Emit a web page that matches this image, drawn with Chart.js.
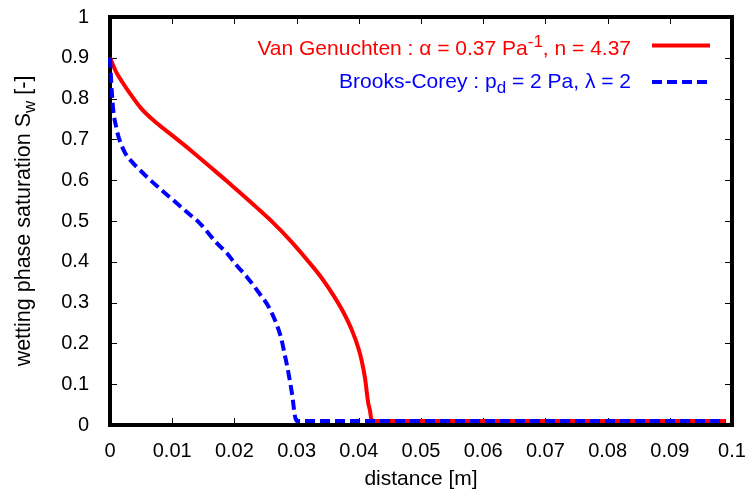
<!DOCTYPE html>
<html>
<head>
<meta charset="utf-8">
<title>Wetting phase saturation</title>
<script src="https://cdn.jsdelivr.net/npm/chart.js@4/dist/chart.umd.min.js"></script>
<style>
  html, body { margin: 0; padding: 0; background: #fff; }
  canvas { display: block; }
</style>
</head>
<body>
<canvas id="satChart" width="752" height="495"></canvas>
<script>
// values: distance [m] -> saturation [-]
const vgDistance = [0, 0.001, 0.002, 0.003, 0.005, 0.0075, 0.01, 0.013, 0.016, 0.019, 0.021, 0.0235, 0.026, 0.029, 0.032, 0.034, 0.036, 0.0375, 0.0389, 0.04, 0.0405, 0.041, 0.0415, 0.0418, 0.042, 0.0425, 0.099]
const vgSaturation = [0.9, 0.865, 0.84, 0.817, 0.776, 0.74, 0.71, 0.673, 0.634, 0.595, 0.568, 0.534, 0.499, 0.452, 0.399, 0.361, 0.316, 0.277, 0.232, 0.185, 0.155, 0.115, 0.055, 0.035, 0.015, 0.01, 0.01]

const bcDistance = [0, 0.0002, 0.0005, 0.001, 0.0015, 0.0025, 0.0037, 0.005, 0.0065, 0.0085, 0.0101, 0.0125, 0.0144, 0.0171, 0.0188, 0.0203, 0.022, 0.024, 0.0255, 0.0267, 0.0275, 0.0281, 0.0285, 0.0289, 0.0293, 0.0297, 0.03, 0.099]
const bcSaturation = [0.9, 0.84, 0.775, 0.73, 0.7, 0.665, 0.642, 0.622, 0.6, 0.573, 0.552, 0.52, 0.495, 0.447, 0.421, 0.392, 0.363, 0.323, 0.29, 0.25, 0.214, 0.172, 0.143, 0.11, 0.073, 0.025, 0.01, 0.01]

const xTicks = [0, 0.01, 0.02, 0.03, 0.04, 0.05, 0.06, 0.07, 0.08, 0.09, 0.1]
const xTickLabels = ["0", "0.01", "0.02", "0.03", "0.04", "0.05", "0.06", "0.07", "0.08", "0.09", "0.1"]
const yTicks = [0, 0.1, 0.2, 0.3, 0.4, 0.5, 0.6, 0.7, 0.8, 0.9, 1]
const yTickLabels = ["0", "0.1", "0.2", "0.3", "0.4", "0.5", "0.6", "0.7", "0.8", "0.9", "1"]

const FONT = "'Liberation Sans', Arial, sans-serif"
const RED = "#ff0000"
const BLUE = "#0000ff"

const toPoints = (xs, ys) => xs.map((x, i) => ({ x: x, y: ys[i] }))

// draw text made of parts, some raised (sup) or lowered (sub)
function drawRich(ctx, parts, x, y, align, color, size) {
  const big = size + "px " + FONT
  const small = Math.round(size * 0.8) + "px " + FONT
  let width = 0
  parts.forEach((p) => {
    ctx.font = p.sup || p.sub ? small : big
    p.w = ctx.measureText(p.t).width
    width += p.w
  })
  let cx = align === "right" ? x - width : align === "center" ? x - width / 2 : x
  ctx.fillStyle = color
  ctx.textAlign = "left"
  ctx.textBaseline = "alphabetic"
  parts.forEach((p) => {
    ctx.font = p.sup || p.sub ? small : big
    const dy = p.sup ? -8 : p.sub ? 5 : 0
    ctx.fillText(p.t, cx, y + dy)
    cx += p.w
  })
}

const framePlugin = {
  id: "gnuplotFrame",
  beforeDatasetsDraw(chart) {
    const ctx = chart.ctx
    const a = chart.chartArea
    const xs = chart.scales.x
    const ys = chart.scales.y
    ctx.save()
    // inward ticks on all four sides
    ctx.strokeStyle = "#000"
    ctx.lineWidth = 1
    ctx.beginPath()
    xTicks.forEach((v) => {
      const px = Math.round(xs.getPixelForValue(v)) + 0.5
      ctx.moveTo(px, a.bottom)
      ctx.lineTo(px, a.bottom - 7)
      ctx.moveTo(px, a.top)
      ctx.lineTo(px, a.top + 7)
    })
    yTicks.forEach((v) => {
      const py = Math.round(ys.getPixelForValue(v)) + 0.5
      ctx.moveTo(a.left, py)
      ctx.lineTo(a.left + 7, py)
      ctx.moveTo(a.right, py)
      ctx.lineTo(a.right - 7, py)
    })
    ctx.stroke()
    // border
    ctx.lineWidth = 4
    ctx.strokeRect(a.left, a.top, a.right - a.left, a.bottom - a.top)
    ctx.restore()
  },
  afterDatasetsDraw(chart) {
    const ctx = chart.ctx
    const a = chart.chartArea
    ctx.save()

    // legend, text right aligned, sample line to the right
    drawRich(ctx, [{ t: "Van Genuchten : \u03b1 = 0.37 Pa" }, { t: "-1", sup: true }, { t: ", n = 4.37" }], 631, 55, "right", RED, 21)
    drawRich(ctx, [{ t: "Brooks-Corey : p" }, { t: "d", sub: true }, { t: " = 2 Pa, \u03bb = 2" }], 631, 88, "right", BLUE, 21)

    ctx.lineWidth = 4
    ctx.strokeStyle = RED
    ctx.beginPath()
    ctx.moveTo(652, 45.5)
    ctx.lineTo(710, 45.5)
    ctx.stroke()
    ctx.strokeStyle = BLUE
    ctx.setLineDash([10, 5])
    ctx.beginPath()
    ctx.moveTo(652, 82)
    ctx.lineTo(710, 82)
    ctx.stroke()
    ctx.setLineDash([])

    // axis titles
    drawRich(ctx, [{ t: "distance [m]" }], (a.left + a.right) / 2, 485, "center", "#000", 21)
    ctx.translate(30, (a.top + a.bottom) / 2)
    ctx.rotate(-Math.PI / 2)
    drawRich(ctx, [{ t: "wetting phase saturation S" }, { t: "w", sub: true }, { t: " [-]" }], 0, 0, "center", "#000", 21.5)
    ctx.restore()
  },
}

document.addEventListener("DOMContentLoaded", () => {
  const canvas = document.getElementById("satChart")

  new Chart(canvas, {
    type: "line",
    data: {
      datasets: [
        {
          label: "Brooks-Corey",
          data: toPoints(bcDistance, bcSaturation),
          borderColor: BLUE,
          borderWidth: 4,
          borderDash: [10, 5],
          pointRadius: 0,
          cubicInterpolationMode: "monotone",
          clip: 6,
        },
        {
          label: "Van Genuchten",
          data: toPoints(vgDistance, vgSaturation),
          borderColor: RED,
          borderWidth: 4,
          pointRadius: 0,
          cubicInterpolationMode: "monotone",
          clip: 6,
        },
      ],
    },
    options: {
      responsive: false,
      animation: false,
      devicePixelRatio: 1,
      layout: { padding: { top: 17, right: 20, left: 0, bottom: 0 } },
      plugins: {
        legend: { display: false },
        tooltip: { enabled: false },
      },
      scales: {
        x: {
          type: "linear",
          min: 0,
          max: 0.1,
          grid: { display: false },
          border: { display: false },
          afterBuildTicks: (s) => {
            s.ticks = xTicks.map((v) => ({ value: v }))
          },
          afterFit: (s) => {
            s.height = 70
            s.paddingLeft = 0
            s.paddingRight = 0
          },
          ticks: {
            autoSkip: false,
            maxRotation: 0,
            padding: 6,
            color: "#000",
            font: { family: FONT, size: 20 },
            callback: (v, i) => xTickLabels[i],
          },
        },
        y: {
          type: "linear",
          min: 0,
          max: 1,
          grid: { display: false },
          border: { display: false },
          afterBuildTicks: (s) => {
            s.ticks = yTicks.map((v) => ({ value: v }))
          },
          afterFit: (s) => {
            s.width = 110
            s.paddingTop = 0
            s.paddingBottom = 0
          },
          ticks: {
            autoSkip: false,
            padding: 13,
            color: "#000",
            font: { family: FONT, size: 20 },
            callback: (v, i) => yTickLabels[i],
          },
        },
      },
    },
    plugins: [framePlugin],
  })
})
</script>
</body>
</html>
